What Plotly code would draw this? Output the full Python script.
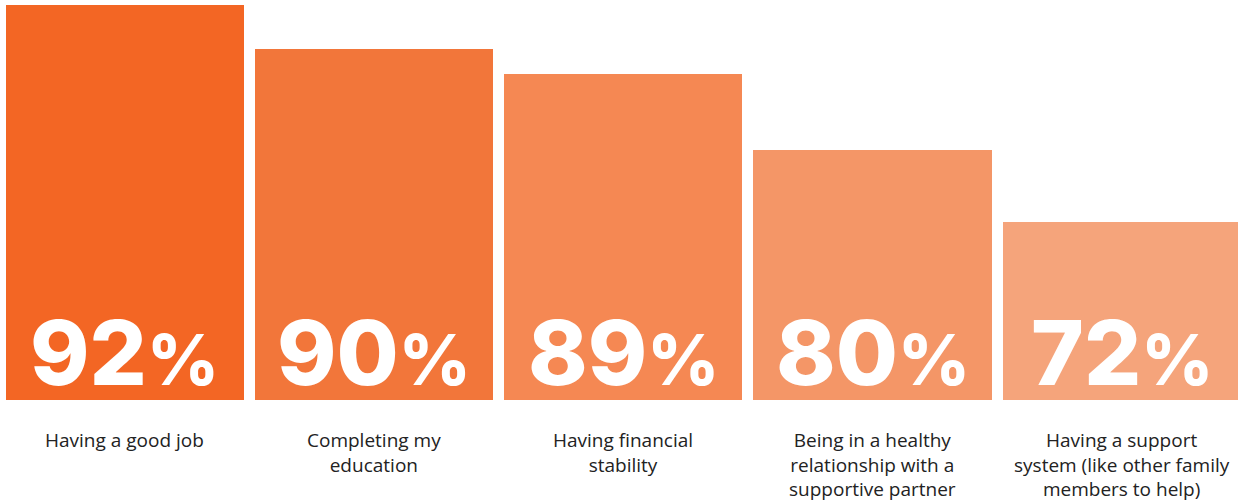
import plotly.graph_objects as go

categories = [
    "Having a good job",
    "Completing my<br>education",
    "Having financial<br>stability",
    "Being in a healthy<br>relationship with a<br>supportive partner",
    "Having a support<br>system (like other family<br>members to help)",
]
percent_values = [92, 90, 89, 80, 72]
# displayed bar heights (stylised, in units of the tallest bar = 92)
bar_heights = [92, 81.8, 75.9, 58.2, 41.5]
bar_colors = ["#F36624", "#F2763A", "#F58853", "#F49667", "#F5A47B"]

x_idx = list(range(len(categories)))

fig = go.Figure()
fig.add_trace(go.Bar(
    x=x_idx, y=bar_heights, width=0.955,
    marker=dict(color=bar_colors, line=dict(width=0)),
    hoverinfo="skip", showlegend=False,
))

for i, (v, lab) in enumerate(zip(percent_values, categories)):
    fig.add_annotation(
        x=i, y=0, xref="x", yref="y", yanchor="bottom", xanchor="center",
        yshift=-9, showarrow=False,
        text=f"{v}<span style='font-size:70px'>%</span>",
        font=dict(family="Inter", size=90, color="white", weight=800),
    )
    fig.add_annotation(
        x=i, y=0, xref="x", yref="paper", yanchor="top", xanchor="center",
        yshift=-25, showarrow=False, text=lab,
        font=dict(family="Open Sans", size=19, color="#222222"),
    )

fig.update_layout(
    width=1238, height=501,
    margin=dict(l=0, r=0, t=5, b=101, pad=0),
    paper_bgcolor="white", plot_bgcolor="white",
    xaxis=dict(range=[-0.5, 4.466], showticklabels=False, showgrid=False,
               zeroline=False, showline=False, ticks=""),
    yaxis=dict(range=[0, 92], showticklabels=False, showgrid=False,
               zeroline=False, showline=False, ticks=""),
    bargap=0,
)

fig.write_html("out.html")
